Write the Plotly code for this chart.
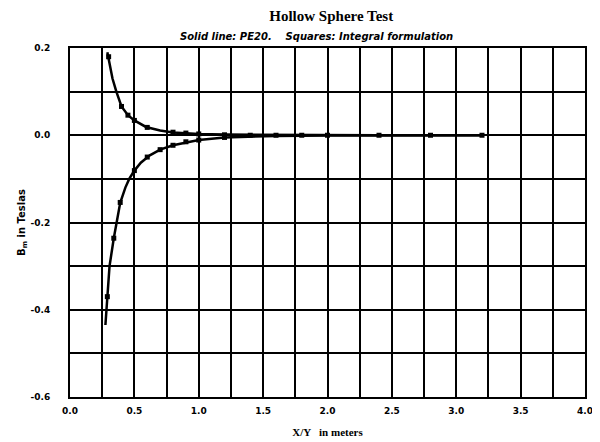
import plotly.graph_objects as go

# Solid line (PE20), upper branch
pe_up_x = [0.29, 0.31, 0.33, 0.36, 0.40, 0.45, 0.50, 0.59, 0.70, 0.80, 1.0, 1.2, 1.6, 2.0, 2.4, 2.8, 3.2]
pe_up_y = [0.19, 0.155, 0.13, 0.10, 0.066, 0.046, 0.034, 0.019, 0.011, 0.0065, 0.003, 0.0015, 0.0005, 0.0002, 0.0001, 0.0, 0.0]
# Solid line (PE20), lower branch
pe_lo_x = [0.275, 0.29, 0.307, 0.34, 0.36, 0.39, 0.43, 0.46, 0.50, 0.55, 0.62, 0.70, 0.80, 1.0, 1.2, 1.6, 2.0, 2.4, 2.8, 3.2]
pe_lo_y = [-0.435, -0.37, -0.30, -0.236, -0.20, -0.155, -0.12, -0.10, -0.081, -0.063, -0.046, -0.033, -0.023, -0.011, -0.005, -0.0015, -0.0007, -0.0003, -0.0001, 0.0]
# Squares: integral formulation
sq_up_x = [0.30, 0.40, 0.45, 0.50, 0.60, 0.80, 0.90, 1.0, 1.2]
sq_up_y = [0.18, 0.066, 0.046, 0.034, 0.018, 0.007, 0.005, 0.003, 0.001]
sq_lo_x = [0.29, 0.34, 0.39, 0.50, 0.60, 0.70, 0.80, 0.90, 1.0, 1.2]
sq_lo_y = [-0.37, -0.236, -0.154, -0.081, -0.050, -0.033, -0.023, -0.015, -0.011, -0.005]
sq_zero_x = [1.4, 1.6, 1.8, 2.0, 2.4, 2.8, 3.2]
sq_zero_y = [0.0, 0.0, 0.0, 0.0, 0.0, 0.0, 0.0]

x_ticks = [0.0, 0.5, 1.0, 1.5, 2.0, 2.5, 3.0, 3.5, 4.0]
y_ticks = [0.2, 0.0, -0.2, -0.4, -0.6]

fig = go.Figure()
for xs, ys in [(pe_up_x, pe_up_y), (pe_lo_x, pe_lo_y)]:
    fig.add_trace(go.Scatter(x=xs, y=ys, mode="lines", line=dict(color="black", width=2.5),
                             showlegend=False, hoverinfo="skip"))
for xs, ys in [(sq_up_x, sq_up_y), (sq_lo_x, sq_lo_y), (sq_zero_x, sq_zero_y)]:
    fig.add_trace(go.Scatter(x=xs, y=ys, mode="markers",
                             marker=dict(symbol="square", size=5, color="black"),
                             showlegend=False))

tickfont = dict(family="DejaVu Sans", size=9, color="black", weight="bold")
fig.update_layout(
    width=592, height=434,
    margin=dict(l=62, r=15, t=40, b=45, autoexpand=False),
    paper_bgcolor="white", plot_bgcolor="white",
    title=dict(text="Hollow Sphere Test", x=0.546, xanchor="center", y=0.982, yanchor="middle",
               automargin=False,
               font=dict(family="Liberation Serif", size=15, color="black", weight="bold")),
    annotations=[dict(text="<i>Solid line: PE20.    Squares: Integral formulation</i>",
                      xref="paper", yref="paper", x=0.479, y=1.0, yshift=4, showarrow=False,
                      xanchor="center", yanchor="bottom",
                      font=dict(family="DejaVu Sans", size=10, color="black", weight="bold"))],
    xaxis=dict(range=[0, 4], tickvals=x_ticks, ticktext=[f"{v:.1f}" for v in x_ticks],
               automargin=False,
               showgrid=True, gridcolor="black", gridwidth=2,
               minor=dict(dtick=0.25, showgrid=True, gridcolor="black", gridwidth=2, tick0=0),
               showline=True, linecolor="black", linewidth=2, mirror=True,
               zeroline=False, ticks="", tickfont=tickfont, ticklabelstandoff=4,
               title=dict(text="X/Y   in meters", standoff=14,
                          font=dict(family="Liberation Serif", size=11, color="black", weight="bold"))),
    yaxis=dict(range=[-0.6, 0.2], tickvals=y_ticks, ticktext=[f"{v:.1f}" for v in y_ticks],
               automargin=False,
               showgrid=True, gridcolor="black", gridwidth=2,
               minor=dict(dtick=0.1, showgrid=True, gridcolor="black", gridwidth=2, tick0=0),
               showline=True, linecolor="black", linewidth=2, mirror=True,
               zeroline=False, ticks="", tickfont=tickfont, ticklabelstandoff=16,
               title=dict(text="B<sub>m</sub> in Teslas", standoff=3,
                          font=dict(family="DejaVu Sans", size=10, color="black", weight="bold"))),
)

fig.write_html("out.html")
